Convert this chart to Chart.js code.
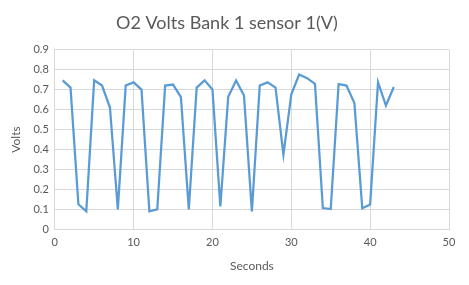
<!DOCTYPE html>
<html>
<head>
<meta charset="utf-8">
<script src="https://cdn.jsdelivr.net/npm/chart.js@4/dist/chart.umd.min.js"></script>
<style>
  html, body { margin: 0; padding: 0; background: #fff; }
  #wrap { width: 469px; height: 285px; }
</style>
</head>
<body>
<div id="wrap"><canvas id="o2Chart"></canvas></div>
<script>
const SECONDS = [1, 2, 3, 4, 5, 6, 7, 8, 9, 10, 11, 12, 13, 14, 15, 16, 17, 18, 19, 20, 21, 22,
  23, 24, 25, 26, 27, 28, 29, 30, 31, 32, 33, 34, 35, 36, 37, 38, 39, 40, 41, 42, 43];
const VOLTS = [0.746, 0.71, 0.126, 0.09, 0.746, 0.72, 0.61, 0.10, 0.72, 0.736, 0.70, 0.09, 0.10,
  0.72, 0.725, 0.662, 0.10, 0.71, 0.746, 0.70, 0.115, 0.664, 0.745, 0.67, 0.09, 0.72, 0.736,
  0.71, 0.374, 0.676, 0.775, 0.757, 0.728, 0.107, 0.102, 0.727, 0.72, 0.633, 0.106, 0.125,
  0.737, 0.62, 0.713];
const X_TICKS = [0, 10, 20, 30, 40, 50];
const Y_TICKS = [0, 0.1, 0.2, 0.3, 0.4, 0.5, 0.6, 0.7, 0.8, 0.9];

const FONT = 'Lato, "Open Sans", sans-serif';
const TEXT = '#595959';
const GRID = '#d9d9d9';

const points = SECONDS.map((s, i) => ({ x: s, y: VOLTS[i] }));

new Chart(document.getElementById('o2Chart').getContext('2d'), {
  type: 'scatter',
  data: {
    datasets: [{
      label: 'O2 Volts Bank 1 sensor 1(V)',
      data: points,
      showLine: true,
      borderColor: '#5b9bd5',
      borderWidth: 2.25,
      pointRadius: 0,
      tension: 0
    }]
  },
  options: {
    responsive: true,
    maintainAspectRatio: false,
    animation: false,
    layout: { padding: { left: 5, right: 20, top: 8, bottom: 8 } },
    plugins: {
      legend: { display: false },
      tooltip: { enabled: false },
      title: {
        display: true,
        text: 'O2 Volts Bank 1 sensor 1(V)',
        color: TEXT,
        font: { family: FONT, size: 18, weight: 'normal' },
        padding: { top: 4, bottom: 16 }
      }
    },
    scales: {
      x: {
        type: 'linear',
        min: 0,
        max: 50,
        afterBuildTicks: axis => { axis.ticks = X_TICKS.map(v => ({ value: v })); },
        grid: { color: GRID, drawTicks: false },
        border: { color: GRID },
        ticks: { color: TEXT, font: { family: FONT, size: 11 }, padding: 6 },
        title: { display: true, text: 'Seconds', color: TEXT, font: { family: FONT, size: 12 }, padding: { top: 4 } }
      },
      y: {
        min: 0,
        max: 0.9,
        afterBuildTicks: axis => { axis.ticks = Y_TICKS.map(v => ({ value: v })); },
        grid: { color: GRID, drawTicks: false },
        border: { color: GRID },
        ticks: { color: TEXT, font: { family: FONT, size: 11 }, padding: 6 },
        title: { display: true, text: 'Volts', color: TEXT, font: { family: FONT, size: 12 }, padding: { bottom: 4 } }
      }
    }
  }
});
</script>
</body>
</html>
